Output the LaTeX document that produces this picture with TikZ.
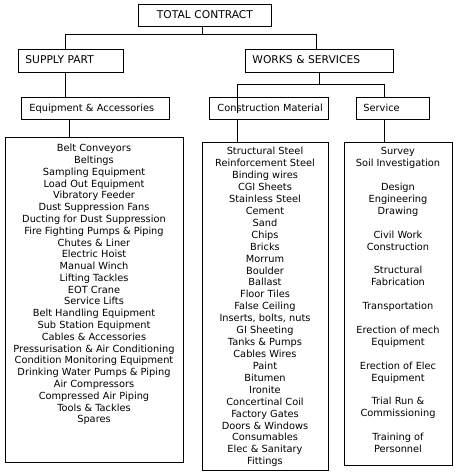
\documentclass[tikz,border=0pt]{standalone}
\usepackage{fontspec}
\setmainfont{DejaVu Sans}
\tikzset{
  box/.style={draw, line width=0.9pt, anchor=north west, inner ysep=0pt,
    text height=7.5pt, text depth=2pt, align=left},
  topfont/.style={font=\fontsize{10.7}{13}\selectfont},
  subfont/.style={font=\fontsize{9.8}{12}\selectfont},
  listbox/.style={draw, line width=0.9pt, anchor=north west, inner sep=0pt},
  listtext/.style={anchor=north, align=center, inner sep=0pt},
  conn/.style={line width=0.9pt},
}
\begin{document}
\begin{tikzpicture}[x=1pt,y=-1pt]
\useasboundingbox (0,0) rectangle (458,472);
% heading boxes
\node[box, topfont, align=center, inner xsep=0pt, text width=133pt, minimum height=22pt] (tc) at (138,4) {TOTAL CONTRACT};
\node[box, topfont, inner xsep=7pt, text width=91pt, minimum height=23pt] (supply) at (18,49) {SUPPLY PART};
\node[box, topfont, inner xsep=7pt, text width=134pt, minimum height=23pt] (works) at (245,49) {WORKS \& SERVICES};
\node[box, subfont, inner xsep=8pt, text width=132pt, minimum height=22pt] (equip) at (21,97) {\mbox{Equipment \& Accessories}};
\node[box, subfont, inner xsep=8pt, text width=103pt, minimum height=22pt] (constr) at (209,97) {\mbox{Construction Material}};
\node[box, subfont, inner xsep=7pt, text width=59pt, minimum height=22pt] (service) at (356,97) {Service};
% list boxes
\node[listbox, minimum width=178pt, minimum height=325pt] (leftlist) at (5,137) {};
\node[listbox, minimum width=126pt, minimum height=328pt] (midlist) at (202,142) {};
\node[listbox, minimum width=108pt, minimum height=323pt] (rightlist) at (344,142) {};
% list texts
\node[listtext, font=\fontsize{9.8}{11.78}\selectfont] (lefttext) at (94,144.2) {Belt Conveyors\\Beltings\\Sampling Equipment\\Load Out Equipment\\Vibratory Feeder\\Dust Suppression Fans\\Ducting for Dust Suppression\\Fire Fighting Pumps \& Piping\\Chutes \& Liner\\Electric Hoist\\Manual Winch\\Lifting Tackles\\EOT Crane\\Service Lifts\\Belt Handling Equipment\\Sub Station Equipment\\Cables \& Accessories\\Pressurisation \& Air Conditioning\\Condition Monitoring Equipment\\Drinking Water Pumps \& Piping\\Air Compressors\\Compressed Air Piping\\Tools \& Tackles\\Spares};
\node[listtext, font=\fontsize{9.8}{11.92}\selectfont] (midtext) at (265,147.2) {Structural Steel\\Reinforcement Steel\\Binding wires\\CGI Sheets\\Stainless Steel\\Cement\\Sand\\Chips\\Bricks\\Morrum\\Boulder\\Ballast\\Floor Tiles\\False Ceiling\\Inserts, bolts, nuts\\GI Sheeting\\Tanks \& Pumps\\Cables Wires\\Paint\\Bitumen\\Ironite\\Concertinal Coil\\Factory Gates\\Doors \& Windows\\Consumables\\Elec \& Sanitary\\Fittings};
\node[listtext, font=\fontsize{9.8}{11.92}\selectfont] (righttext) at (398,147.2) {Survey\\Soil Investigation\\[11.92pt]Design\\Engineering\\Drawing\\[11.92pt]Civil Work\\Construction\\[11.92pt]Structural\\Fabrication\\[11.92pt]Transportation\\[11.92pt]Erection of mech\\Equipment\\[11.92pt]Erection of Elec\\Equipment\\[11.92pt]Trial Run \&\\Commissioning\\[11.92pt]Training of\\Personnel};
% junctions
\coordinate (j1) at (202,34);
\coordinate (js) at (65,34);
\coordinate (jw) at (316,34);
\coordinate (je) at (69,0);
\coordinate (j2) at (319,84);
\coordinate (jc) at (237,84);
\coordinate (jsv) at (384,84);
\coordinate (glitch) at (237,113);
% connectors
\draw[conn] (tc.south -| j1) -- (j1);
\draw[conn] (js |- supply.north) -- (js) -- (jw) -- (jw |- works.north);
\draw[conn] (supply.south -| js) -- (equip.north -| js);
\draw[conn] (equip.south -| je) -- (leftlist.north -| je);
\draw[conn] (works.south -| j2) -- (j2);
\draw[conn] (jc) -- (jsv);
\draw[conn] (jc) -- (glitch);
\draw[conn] (jsv) -- (jsv |- service.north);
\draw[conn] (constr.south -| jc) -- (midlist.north -| jc);
\draw[conn] (service.south -| jsv) -- (rightlist.north -| jsv);
\end{tikzpicture}
\end{document}
